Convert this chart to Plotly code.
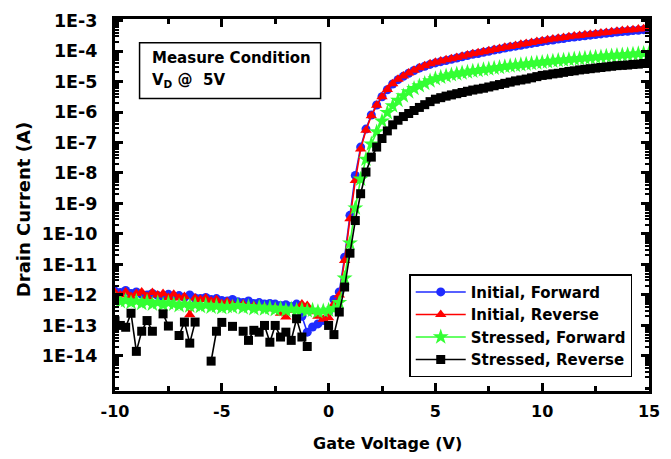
import plotly.graph_objects as go

# Gate voltage sweep (V)
gate_voltage = [
    -10.0, -9.75, -9.5, -9.25, -9.0, -8.75, -8.5, -8.25, -8.0, -7.75,
    -7.5, -7.25, -7.0, -6.75, -6.5, -6.25, -6.0, -5.75, -5.5, -5.25,
    -5.0, -4.75, -4.5, -4.25, -4.0, -3.75, -3.5, -3.25, -3.0, -2.75,
    -2.5, -2.25, -2.0, -1.75, -1.5, -1.25, -1.0, -0.75, -0.5, -0.25,
    0.0, 0.25, 0.5, 0.75, 1.0, 1.25, 1.5, 1.75, 2.0, 2.25,
    2.5, 2.75, 3.0, 3.25, 3.5, 3.75, 4.0, 4.25, 4.5, 4.75,
    5.0, 5.25, 5.5, 5.75, 6.0, 6.25, 6.5, 6.75, 7.0, 7.25,
    7.5, 7.75, 8.0, 8.25, 8.5, 8.75, 9.0, 9.25, 9.5, 9.75,
    10.0, 10.25, 10.5, 10.75, 11.0, 11.25, 11.5, 11.75, 12.0, 12.25,
    12.5, 12.75, 13.0, 13.25, 13.5, 13.75, 14.0, 14.25, 14.5, 14.75,
    15.0,
]

# Drain current, as log10(A)
log_id_initial_forward = [
    -11.88, -11.92, -11.85, -11.95, -11.90, -11.98, -12.00, -11.95, -12.02, -12.05,
    -11.98, -12.06, -12.02, -12.08, -12.00, -12.10, -12.12, -12.08, -12.15, -12.12,
    -12.18, -12.20, -12.15, -12.22, -12.25, -12.20, -12.28, -12.25, -12.30, -12.28,
    -12.30, -12.35, -12.32, -12.38, -12.30, -12.70, -13.22, -13.05, -12.95, -12.84,
    -12.55, -12.15, -11.90, -10.76, -9.39, -8.08, -7.15, -6.56, -6.10, -5.77,
    -5.50, -5.27, -5.08, -4.94, -4.83, -4.73, -4.64, -4.56, -4.50, -4.44,
    -4.39, -4.35, -4.31, -4.27, -4.23, -4.19, -4.15, -4.11, -4.08, -4.04,
    -4.01, -3.97, -3.94, -3.90, -3.87, -3.84, -3.81, -3.78, -3.75, -3.72,
    -3.69, -3.66, -3.64, -3.61, -3.59, -3.56, -3.54, -3.52, -3.50, -3.48,
    -3.46, -3.44, -3.42, -3.40, -3.38, -3.36, -3.35, -3.33, -3.32, -3.30,
    -3.29,
]
log_id_initial_reverse = [
    -11.92, -12.00, -11.90, -12.05, -11.95, -11.90, -12.05, -11.92, -12.00, -11.95,
    -12.08, -11.98, -12.10, -12.05, -12.65, -12.10, -12.15, -12.10, -12.20, -12.15,
    -12.28, -12.22, -12.30, -12.35, -12.30, -12.38, -12.35, -12.42, -12.40, -12.45,
    -12.42, -12.60, -12.72, -12.50, -12.45, -12.30, -12.35, -12.55, -12.70, -12.80,
    -12.75, -12.30, -12.00, -10.87, -9.50, -8.25, -7.21, -6.60, -6.12, -5.78,
    -5.50, -5.26, -5.07, -4.93, -4.82, -4.72, -4.63, -4.55, -4.48, -4.42,
    -4.37, -4.33, -4.29, -4.25, -4.21, -4.17, -4.13, -4.09, -4.06, -4.02,
    -3.99, -3.95, -3.92, -3.88, -3.85, -3.82, -3.78, -3.75, -3.72, -3.69,
    -3.66, -3.63, -3.61, -3.58, -3.56, -3.53, -3.51, -3.49, -3.47, -3.45,
    -3.43, -3.41, -3.39, -3.37, -3.35, -3.33, -3.31, -3.30, -3.28, -3.27,
    -3.25,
]
log_id_stressed_forward = [
    -12.15, -12.22, -12.18, -12.25, -12.20, -12.28, -12.22, -12.30, -12.25, -12.32,
    -12.26, -12.30, -12.35, -12.30, -12.36, -12.32, -12.38, -12.33, -12.40, -12.36,
    -12.42, -12.38, -12.40, -12.35, -12.42, -12.38, -12.45, -12.40, -12.46, -12.42,
    -12.48, -12.44, -12.50, -12.46, -12.50, -12.48, -12.52, -12.50, -12.55, -12.52,
    -12.50, -12.45, -12.25, -11.45, -10.30, -9.15, -8.20, -7.55, -7.05, -6.65,
    -6.30, -6.02, -5.80, -5.62, -5.47, -5.34, -5.23, -5.14, -5.06, -4.98,
    -4.91, -4.86, -4.82, -4.78, -4.75, -4.72, -4.69, -4.66, -4.64, -4.61,
    -4.59, -4.56, -4.54, -4.51, -4.49, -4.47, -4.45, -4.43, -4.41, -4.39,
    -4.37, -4.35, -4.33, -4.31, -4.30, -4.28, -4.26, -4.25, -4.23, -4.22,
    -4.20, -4.19, -4.17, -4.16, -4.14, -4.13, -4.12, -4.10, -4.09, -4.08,
    -4.07,
]
log_id_stressed_reverse = [
    -12.85, -13.00, -13.06, -12.60, -13.85, -13.19, -12.84, -13.19, None, -12.62,
    -13.02, None, -13.33, -12.89, -13.58, -12.89, None, None, -14.17, -13.19,
    -12.90, None, -13.03, None, -13.19, -13.49, -13.16, -13.22, -13.00, -13.55,
    -13.00, -13.38, -13.22, -13.49, -12.78, -13.38, -13.69, None, None, None,
    -13.00, -13.30, -12.56, -11.74, -10.63, -9.56, -8.68, -7.97, -7.48, -7.15,
    -6.87, -6.62, -6.42, -6.27, -6.15, -6.05, -5.95, -5.85, -5.76, -5.66,
    -5.58, -5.53, -5.48, -5.44, -5.40, -5.36, -5.32, -5.28, -5.25, -5.22,
    -5.18, -5.14, -5.10, -5.06, -5.02, -4.98, -4.95, -4.92, -4.88, -4.84,
    -4.80, -4.78, -4.75, -4.73, -4.70, -4.67, -4.65, -4.62, -4.60, -4.58,
    -4.56, -4.54, -4.52, -4.50, -4.48, -4.47, -4.46, -4.44, -4.43, -4.41,
    -4.40,
]

series_names = ["Initial, Forward", "Initial, Reverse", "Stressed, Forward", "Stressed, Reverse"]
series_logs = [log_id_initial_forward, log_id_initial_reverse,
               log_id_stressed_forward, log_id_stressed_reverse]
series_colors = ["#1f2bff", "#ff0000", "#33ff33", "#000000"]
series_symbols = ["circle", "triangle-up", "star", "square"]
series_sizes = [9, 10, 12, 9]

y_tick_exponents = [-3, -4, -5, -6, -7, -8, -9, -10, -11, -12, -13, -14]
y_tick_labels = ["1E-3", "1E-4", "1E-5", "1E-6", "1E-7", "1E-8", "1E-9",
                 "1E-10", "1E-11", "1E-12", "1E-13", "1E-14"]
x_tick_values = [-10, -5, 0, 5, 10, 15]
x_tick_labels = ["-10", "-5", "0", "5", "10", "15"]

FONT = "DejaVu Sans"

fig = go.Figure()
for i, (name, logs, col, sym, sz) in enumerate(zip(series_names, series_logs, series_colors,
                                                  series_symbols, series_sizes)):
    current = [None if v is None else 10 ** v for v in logs]
    fig.add_trace(go.Scatter(
        x=gate_voltage, y=current, name=name, mode="lines+markers",
        line=dict(color=col, width=1.6),
        marker=dict(symbol=sym, size=sz, color=col, line=dict(width=0)),
        connectgaps=False,
    ))

minor_y = [m * 10.0 ** e for e in range(-16, -2) for m in range(2, 10)]

fig.update_xaxes(
    range=[-10, 15], tickmode="array", tickvals=x_tick_values, ticktext=x_tick_labels,
    ticks="inside", ticklen=8, tickwidth=2.5, tickcolor="black",
    minor=dict(ticks="inside", tickmode="array", tickvals=[-7.5, -2.5, 2.5, 7.5, 12.5],
               ticklen=5, tickwidth=2.5, tickcolor="black"),
    showline=True, linewidth=3, linecolor="black", mirror="allticks",
    showgrid=False, zeroline=False,
    tickfont=dict(family=FONT, size=16, color="black", weight="bold"),
    ticklabelstandoff=4,
)
fig.update_yaxes(
    type="log", range=[-15.15, -2.95], tickmode="array",
    tickvals=[10.0 ** e for e in y_tick_exponents], ticktext=y_tick_labels,
    ticks="inside", ticklen=8, tickwidth=2.5, tickcolor="black",
    minor=dict(ticks="inside", tickmode="array", tickvals=minor_y,
               ticklen=4, tickwidth=1.5, tickcolor="black"),
    showline=True, linewidth=3, linecolor="black", mirror="allticks",
    showgrid=False, zeroline=False,
    tickfont=dict(family=FONT, size=17.5, color="black", weight="bold"),
    ticklabelstandoff=11,
)

fig.add_annotation(text="Drain Current (A)", xref="paper", yref="paper",
                   x=-0.171, y=0.488, xanchor="center", yanchor="middle", textangle=-90,
                   showarrow=False, font=dict(family=FONT, size=18, color="black", weight="bold"))
fig.add_annotation(text="Gate Voltage (V)", xref="paper", yref="paper",
                   x=0.51, y=-0.142, xanchor="center", yanchor="middle",
                   showarrow=False, font=dict(family=FONT, size=16, color="black", weight="bold"))

# Measure-condition box
fig.add_shape(type="rect", xref="paper", yref="paper", x0=0.046, x1=0.385, y0=0.786, y1=0.936,
              line=dict(color="black", width=1.5), fillcolor="white")
fig.add_annotation(text="Measure Condition", xref="paper", yref="paper", x=0.066, y=0.895,
                   xanchor="left", yanchor="middle", showarrow=False,
                   font=dict(family=FONT, size=15, color="black", weight="bold"))
fig.add_annotation(text="V<sub>D</sub> @  5V", xref="paper", yref="paper", x=0.066, y=0.834,
                   xanchor="left", yanchor="middle", showarrow=False,
                   font=dict(family=FONT, size=15, color="black", weight="bold"))

fig.update_layout(
    width=671, height=459,
    margin=dict(l=115, r=11, t=18, b=68),
    paper_bgcolor="white", plot_bgcolor="white",
    showlegend=True,
    legend=dict(x=0.551, y=0.314, xanchor="left", yanchor="top",
                bordercolor="black", borderwidth=1.5, bgcolor="white",
                font=dict(family=FONT, size=15, color="black", weight="bold"),
                itemwidth=50, traceorder="normal"),
)

fig.write_html("out.html")
